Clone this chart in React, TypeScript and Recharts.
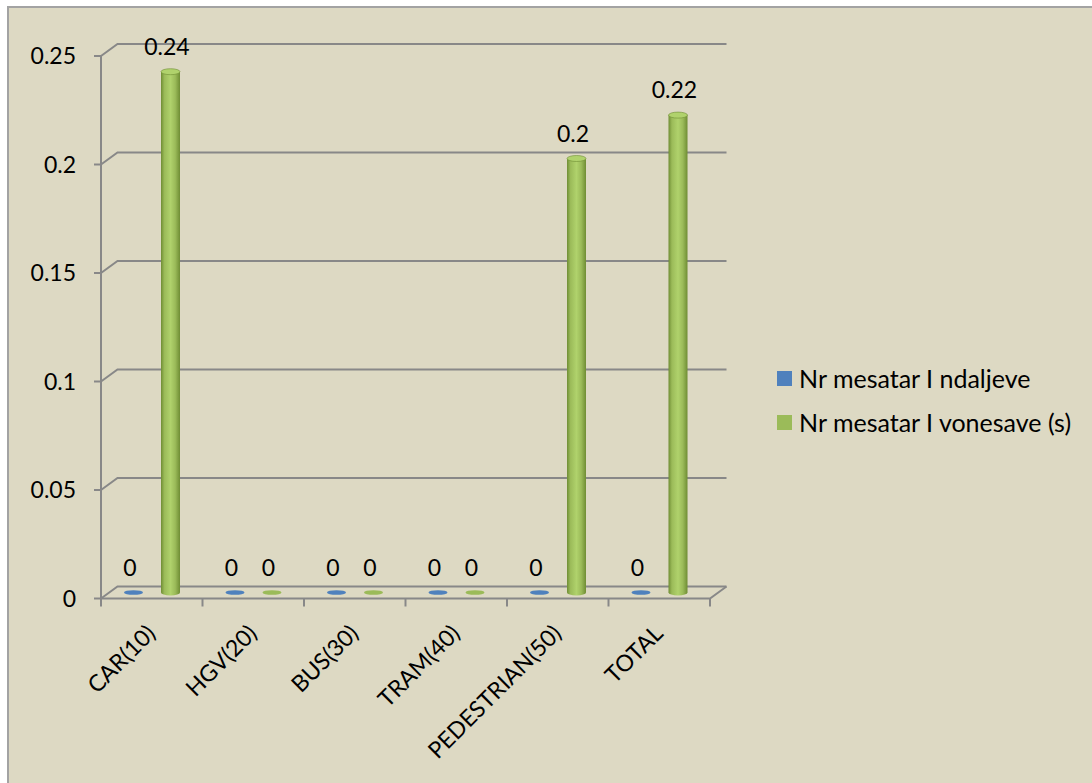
import React from 'react';
import { BarChart, Bar, XAxis, YAxis, CartesianGrid, LabelList } from 'recharts';

const categories = ['CAR(10)', 'HGV(20)', 'BUS(30)', 'TRAM(40)', 'PEDESTRIAN(50)', 'TOTAL'];
const ndaljeve = [0, 0, 0, 0, 0, 0];
const vonesave = [0.24, 0, 0, 0, 0.2, 0.22];
const yTicks = [0, 0.05, 0.1, 0.15, 0.2, 0.25];
const seriesNames = ['Nr mesatar I ndaljeve', 'Nr mesatar I vonesave (s)'];

const data = categories.map((name, i) => ({ name, ndaljeve: ndaljeve[i], vonesave: vonesave[i] }));

// layout of the fake 3d box
const W = 1092;
const H = 783;
const PLOT_LEFT = 101;
const PLOT_RIGHT = 710;
const PLOT_TOP = 50;
const PLOT_BOTTOM = 592.5;
const DX = 16.5;
const DY = 12;
const GRID = '#888888';
const FONT = 'Lato, "Open Sans", sans-serif';
const FS = 23;

const BLUE = { base: '#4F81BD', dark: '#3A6597', light: '#6F9AD0' };
const GREEN = { base: '#9BBB59', dark: '#6F8D34', light: '#B0D26C' };

const band = (PLOT_RIGHT - PLOT_LEFT) / categories.length;

const gridLine = (props: any) => {
  const { x1, x2, y1, index } = props;
  const fy = y1 + DY / 2;
  const by = y1 - DY / 2;
  const isFloor = Math.abs(y1 - PLOT_BOTTOM) < 1;
  return (
    <g key={`g-${index}`}>
      <path
        d={`M${x1},${fy} L${x1 + DX},${by} L${x2 + DX},${by}`}
        fill="none"
        stroke={GRID}
        strokeWidth={2}
      />
      {isFloor && (
        <>
          <path
            d={`M${x1},${fy} L${x2},${fy} L${x2 + DX},${by}`}
            fill="none"
            stroke={GRID}
            strokeWidth={2}
          />
          <line
            x1={x1}
            x2={x1}
            y1={PLOT_TOP + DY / 2}
            y2={fy}
            stroke={GRID}
            strokeWidth={2}
          />
        </>
      )}
    </g>
  );
};

const YTick = (props: any) => {
  const { y, payload } = props;
  const fy = y + DY / 2;
  return (
    <g>
      <line x1={PLOT_LEFT - 7} x2={PLOT_LEFT} y1={fy} y2={fy} stroke={GRID} strokeWidth={2} />
      <text x={76} y={fy + 8} textAnchor="end" fontSize={FS} fontFamily={FONT} fill="#000">
        {String(payload.value)}
      </text>
    </g>
  );
};

const XTick = (props: any) => {
  const { x, payload, index } = props;
  const fy = PLOT_BOTTOM + DY / 2;
  const left = x - band / 2;
  const tx = x + 5;
  const ty = 635;
  return (
    <g>
      <line x1={left} x2={left} y1={fy} y2={fy + 8} stroke={GRID} strokeWidth={2} />
      {index === categories.length - 1 && (
        <line x1={left + band} x2={left + band} y1={fy} y2={fy + 8} stroke={GRID} strokeWidth={2} />
      )}
      <text
        x={tx}
        y={ty}
        textAnchor="end"
        fontSize={FS}
        fontFamily={FONT}
        fill="#000"
        transform={`rotate(-45, ${tx}, ${ty})`}
      >
        {payload.value}
      </text>
    </g>
  );
};

const cylinder = (c: typeof GREEN, key: string) => (props: any) => {
  const { x, y, width, height, index } = props;
  const cx = x + width / 2;
  const rx = width / 2;
  if (!height || height < 1) {
    return <ellipse cx={cx} cy={y + (height || 0)} rx={rx} ry={2.3} fill={c.base} />;
  }
  const id = `cyl-${key}-${index}`;
  return (
    <g>
      <defs>
        <linearGradient id={id} x1="0" x2="1" y1="0" y2="0">
          <stop offset="0%" stopColor={c.dark} />
          <stop offset="18%" stopColor={c.base} />
          <stop offset="50%" stopColor={c.light} />
          <stop offset="75%" stopColor={c.base} />
          <stop offset="100%" stopColor={c.dark} />
        </linearGradient>
      </defs>
      <ellipse cx={cx} cy={y + height} rx={rx} ry={3} fill={`url(#${id})`} />
      <rect x={x} y={y} width={width} height={height} fill={`url(#${id})`} />
      <ellipse cx={cx} cy={y} rx={rx} ry={3} fill={c.light} stroke={c.dark} strokeWidth={0.6} />
    </g>
  );
};

const valueLabel = (props: any) => {
  const vb = props.viewBox || props;
  const { x, y, width } = vb;
  return (
    <text
      x={x + width / 2 - 3.5}
      y={y - 17}
      textAnchor="middle"
      fontSize={FS}
      fontFamily={FONT}
      fill="#000"
    >
      {String(props.value)}
    </text>
  );
};

const legendColors = [BLUE.base, GREEN.base];

export default function App() {
  return (
    <div style={{ position: 'absolute', left: 0, top: 0, width: W, height: H, background: '#fff', overflow: 'hidden' }}>
      <div
        style={{
          position: 'absolute',
          left: 7,
          top: 6,
          width: W + 20,
          height: H + 20,
          background: '#DDD9C3',
          borderLeft: '2px solid #A3A3A3',
          borderTop: '2px solid #A3A3A3',
        }}
      />
      <div style={{ position: 'absolute', left: 0, top: 0 }}>
        <BarChart
          width={W}
          height={H}
          data={data}
          margin={{ top: PLOT_TOP, right: W - PLOT_RIGHT, left: PLOT_LEFT - 60, bottom: H - PLOT_BOTTOM - 150 }}
          barSize={19}
          barGap={18}
        >
          <CartesianGrid horizontal={gridLine} vertical={false} />
          <XAxis
            dataKey="name"
            axisLine={false}
            tickLine={false}
            interval={0}
            height={150}
            tick={XTick}
          />
          <YAxis
            domain={[0, 0.25]}
            ticks={yTicks}
            interval={0}
            axisLine={false}
            tickLine={false}
            width={60}
            tick={YTick}
          />
          <Bar dataKey="ndaljeve" name={seriesNames[0]} isAnimationActive={false} shape={cylinder(BLUE, 'a')}>
            <LabelList dataKey="ndaljeve" content={valueLabel} />
          </Bar>
          <Bar dataKey="vonesave" name={seriesNames[1]} isAnimationActive={false} shape={cylinder(GREEN, 'b')}>
            <LabelList dataKey="vonesave" content={valueLabel} />
          </Bar>
        </BarChart>
      </div>
      <div style={{ position: 'absolute', left: 777, top: 356, fontFamily: FONT, fontSize: 25, color: '#000' }}>
        {seriesNames.map((n, i) => (
          <div key={n} style={{ display: 'flex', alignItems: 'center', height: 44, whiteSpace: 'nowrap' }}>
            <span style={{ display: 'inline-block', width: 15, height: 15, background: legendColors[i], marginRight: 7 }} />
            <span>{n}</span>
          </div>
        ))}
      </div>
    </div>
  );
}
